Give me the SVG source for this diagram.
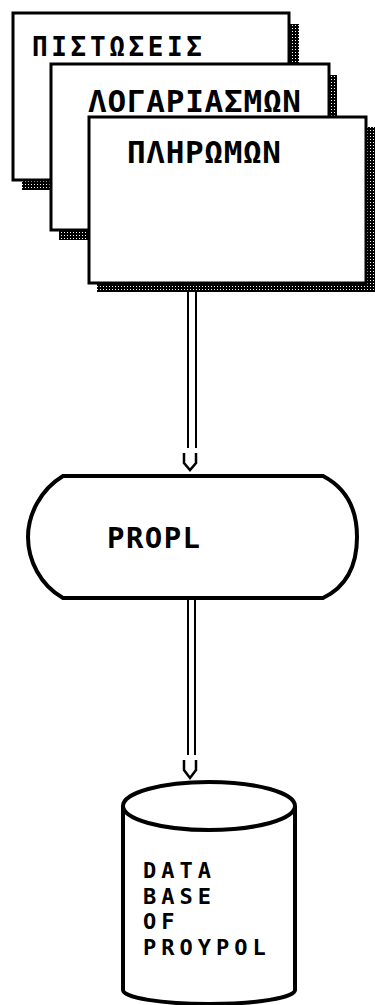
<svg xmlns="http://www.w3.org/2000/svg" width="375" height="1005" viewBox="0 0 375 1005">
<style>
.card{fill:#fff;stroke:#000;stroke-width:3}
.shadow{fill:url(#stip);stroke:none}
.lbl{font-family:"DejaVu Sans Mono","Liberation Mono",monospace;font-weight:bold;fill:#000}
.shape{fill:#fff;stroke:#000;stroke-width:4}
.wire{stroke:#000;stroke-width:2;fill:none}
.head{stroke:#000;stroke-width:2.5;fill:none}
</style>
<defs>
<pattern id="stip" width="3" height="3" patternUnits="userSpaceOnUse">
<rect width="3" height="3" fill="#000"/>
<rect x="1" y="1" width="1" height="1" fill="#fff"/>
</pattern>
</defs>
<g id="card-pistoseis">
<rect class="shadow" x="22" y="24" width="277" height="166"/>
<rect class="card" x="13" y="13" width="276" height="167"/>
<text class="lbl" x="32" y="56" font-size="26" textLength="170" lengthAdjust="spacing">ΠΙΣΤΩΣΕΙΣ</text>
</g>
<g id="card-logariasmon">
<rect class="shadow" x="59" y="75" width="278" height="165"/>
<rect class="card" x="51" y="64" width="278" height="166"/>
<text class="lbl" x="88" y="112" font-size="31" textLength="213" lengthAdjust="spacing">ΛΟΓΑΡΙΑΣΜΩΝ</text>
</g>
<g id="card-pliromon">
<rect class="shadow" x="97" y="127" width="278" height="165"/>
<rect class="card" x="89" y="117" width="277" height="166"/>
<text class="lbl" x="127" y="163" font-size="31" textLength="154" lengthAdjust="spacing">ΠΛΗΡΩΜΩΝ</text>
</g>
<g id="connectors">
<line class="wire" x1="188" y1="292" x2="188" y2="448"/>
<line class="wire" x1="196" y1="292" x2="196" y2="448"/>
<path class="head" d="M184,453 V463 L190,470 L196,463 V453"/>
<line class="wire" x1="188" y1="600" x2="188" y2="755"/>
<line class="wire" x1="195" y1="600" x2="195" y2="755"/>
<path class="head" d="M184,760 V770 L190,778 L196,770 V760"/>
</g>
<g id="propl">
<path class="shape" d="M63,476 H323 C350,490 357,515 357,537 C357,560 350,585 323,598 H63 C40,585 28,560 28,537 C28,515 40,490 63,476 Z"/>
<text class="lbl" x="107" y="548" font-size="29" textLength="93" lengthAdjust="spacing">PROPL</text>
</g>
<g id="database">
<path class="shape" d="M123,806 V990 A86,14 0 0 0 295,990 V806"/>
<ellipse class="shape" cx="209" cy="806" rx="86" ry="24"/>
<text class="lbl" font-size="22" letter-spacing="5">
<tspan x="143" y="878">DATA</tspan>
<tspan x="143" y="903.7">BASE</tspan>
<tspan x="143" y="929.3">OF</tspan>
<tspan x="143" y="955">PROYPOL</tspan>
</text>
</g>
</svg>
